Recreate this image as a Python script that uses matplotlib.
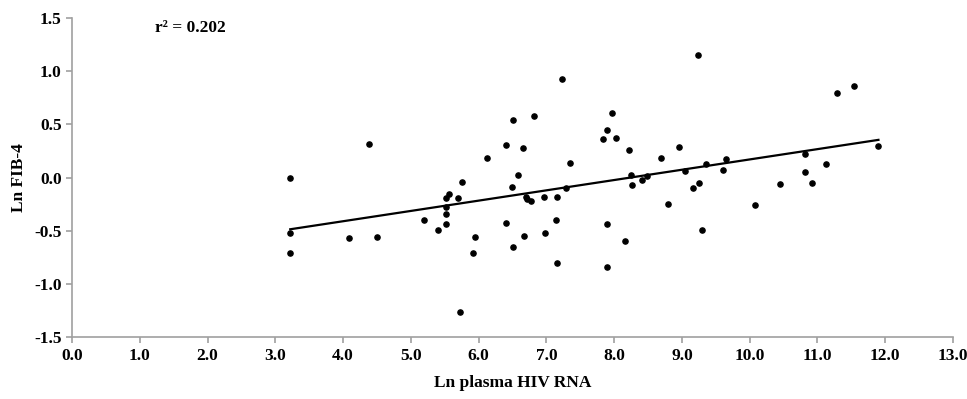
import numpy as np
import matplotlib
matplotlib.use('Agg')
import matplotlib.pyplot as plt

# data
hiv_rna = [3.22, 3.22, 3.22, 4.38, 4.09, 4.50, 5.19, 5.40, 5.52, 5.52,
           5.52, 5.52, 5.56, 5.70, 5.76, 5.73, 5.91, 5.94, 6.13, 6.41,
           6.41, 6.50, 6.49, 6.51, 6.58, 6.66, 6.67, 6.70, 6.72, 6.77,
           6.81, 6.96, 6.98, 7.15, 7.14, 7.15, 7.23, 7.29, 7.35, 7.83,
           7.89, 7.89, 7.89, 7.97, 8.02, 8.16, 8.22, 8.25, 8.27, 8.41,
           8.48, 8.69, 8.80, 8.95, 9.04, 9.17, 9.25, 9.30, 9.36, 9.60,
           9.65, 9.24, 10.08, 10.45, 10.82, 10.82, 10.92, 11.12, 11.29, 11.54,
           11.90]
fib4 = [0.00, -0.52, -0.71, 0.32, -0.57, -0.555, -0.40, -0.49, -0.44, -0.34,
        -0.28, -0.19, -0.15, -0.19, -0.04, -1.26, -0.71, -0.555, 0.18, 0.31,
        -0.43, -0.655, -0.09, 0.54, 0.02, 0.28, -0.545, -0.185, -0.20, -0.22,
        0.58, -0.185, -0.52, -0.185, -0.40, -0.80, 0.93, -0.095, 0.135, 0.36,
        0.445, -0.435, -0.84, 0.61, 0.37, -0.595, 0.26, 0.02, -0.07, -0.02,
        0.015, 0.18, -0.245, 0.29, 0.06, -0.10, -0.055, -0.49, 0.13, 0.07,
        0.17, 1.15, -0.26, -0.06, 0.225, 0.05, -0.05, 0.13, 0.79, 0.86,
        0.295]
r2_text = 'r\u00b2 = 0.202'

x = np.array(hiv_rna)
y = np.array(fib4)
slope, icpt = np.polyfit(x, y, 1)  # trend line

plt.rcParams['font.family'] = ['Liberation Serif', 'DejaVu Serif']
plt.rcParams['font.weight'] = 'bold'

fig = plt.figure(figsize=(9.67, 3.99), dpi=100)
ax = fig.add_axes([0.0745, 0.155, 0.911, 0.80])

ax.scatter(x, y, s=14, c='black', zorder=3)
xl = np.array([x.min(), x.max()])
ax.plot(xl, slope * xl + icpt, c='black', lw=1.6, zorder=2)

ax.set_xlim(0, 13)
ax.set_ylim(-1.5, 1.5)
ax.set_xticks(np.arange(0, 13.1, 1.0))
ax.set_yticks(np.arange(-1.5, 1.51, 0.5))
ax.set_xticklabels(['%.1f' % v for v in np.arange(0, 13.1, 1.0)])
ax.set_yticklabels(['%.1f' % v for v in np.arange(-1.5, 1.51, 0.5)])

for s in ['top', 'right']:
    ax.spines[s].set_visible(False)
for s in ['left', 'bottom']:
    ax.spines[s].set_color('#a0a0a0')
    ax.spines[s].set_linewidth(1.2)
ax.tick_params(colors='#a0a0a0', labelcolor='black', labelsize=12.5,
               length=4, width=1.2)

ax.set_xlabel('Ln plasma HIV RNA', fontsize=12.5, fontweight='bold', labelpad=8)
ax.set_ylabel('Ln FIB-4', fontsize=12.5, fontweight='bold', labelpad=5)
ax.text(1.74, 1.41, r2_text, fontsize=12.5, fontweight='bold',
        ha='center', va='center')

plt.savefig('out.png', dpi=100)
